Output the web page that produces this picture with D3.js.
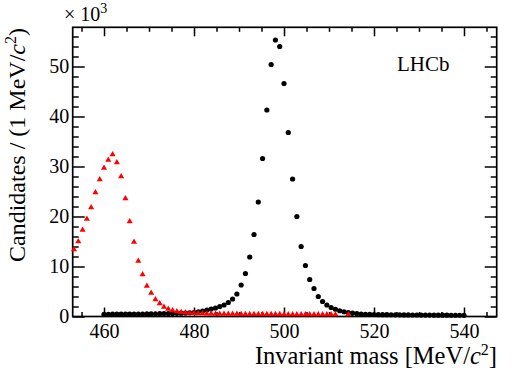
<!DOCTYPE html>
<html>
<head>
<meta charset="utf-8">
<script src="https://cdn.jsdelivr.net/npm/d3@7"></script>
<style>
  html, body { margin: 0; padding: 0; background: #fff; }
  svg { display: block; }
  text { font-family: "Liberation Serif", "Times New Roman", Times, serif; fill: #000; }
</style>
</head>
<body>
<svg id="chart" width="523" height="377"></svg>
<script>
// ---- data (counts in units of 10^3 candidates) ----
const binWidth = 80 / 84;           // spacing of points in MeV/c^2
const blackStart = 460;             // first black point
const redStart = 460 - 7 * binWidth; // first red point

const blackValues = [
  0.45,0.45,0.46,0.46,0.47,0.48,0.48,0.49,0.5,0.5,
  0.52,0.53,0.55,0.56,0.58,0.6,0.62,0.64,0.67,0.7,
  0.75,0.8,0.95,1.1,1.3,1.5,1.7,2.0,2.3,2.8,
  3.5,4.5,6.3,8.6,11.9,16.4,22.9,31.6,41.3,50.4,
  55.3,54.0,46.6,36.8,27.5,20.0,14.0,10.2,7.4,5.6,
  4.0,3.0,2.3,1.8,1.45,1.15,0.95,0.8,0.68,0.58,
  0.5,0.45,0.42,0.4,
  0.38,0.37,0.36,0.35,0.34,0.33,0.32,0.31,0.3,0.3,
  0.29,0.28,0.28,0.27,0.27,0.26,0.26,0.25,0.25,0.25,0.24
];

const redValues = [
  13.4,15.0,17.3,19.5,21.8,24.8,27.4,29.7,31.3,32.4,
  30.8,28.0,23.6,19.0,14.9,11.1,8.4,6.1,4.7,3.4,
  2.6,1.9,1.5,1.2,1.0,0.85,0.75,0.7,0.65,0.6,
  0.58,0.55,
  0.55,0.52,0.52,0.5,0.5,0.48,0.48,0.47,0.46,0.46,
  0.45,0.45,0.44,0.44,0.43,0.43,0.43,0.42,0.42,0.42,
  0.41,0.41,0.41,0.4,0.4,0.4,0.4,0.4,0.4,0.4,
  null,null,0.4
];

const xMajorTicks = [460, 480, 500, 520, 540];
const yMajorTicks = [0, 10, 20, 30, 40, 50];
const xDomain = [453.04, 547.27];
const yDomain = [0, 57.84];

// ---- layout ----
const pLeft = 72.7, pRight = 496.7, pTop = 27.3, pBottom = 316.5;
const serif = '"Liberation Serif", "Times New Roman", Times, serif';
const svg = d3.select("#chart");

const x = d3.scaleLinear().domain(xDomain).range([pLeft, pRight]);
const y = d3.scaleLinear().domain(yDomain).range([pBottom, pTop]);

const blackPts = blackValues.map((v, i) => ({m: blackStart + i * binWidth, v}));
const redPts = redValues.map((v, i) => ({m: redStart + i * binWidth, v})).filter(d => d.v !== null);

const xMinor = d3.range(455, 547, 5).filter(t => !xMajorTicks.includes(t));
const yMinor = d3.range(0, 58, 2).filter(t => !yMajorTicks.includes(t));

const fmt = d3.format("d");

// bottom axis
svg.append("g").attr("transform", `translate(0,${pBottom})`)
  .call(d3.axisBottom(x).tickValues(xMajorTicks).tickSize(-9).tickPadding(7).tickFormat(fmt));
svg.append("g").attr("transform", `translate(0,${pBottom})`)
  .call(d3.axisBottom(x).tickValues(xMinor).tickSize(-4.5).tickFormat(""));
// top axis
svg.append("g").attr("transform", `translate(0,${pTop})`)
  .call(d3.axisTop(x).tickValues(xMajorTicks).tickSize(-9).tickFormat(""));
svg.append("g").attr("transform", `translate(0,${pTop})`)
  .call(d3.axisTop(x).tickValues(xMinor).tickSize(-4.5).tickFormat(""));
// left axis
svg.append("g").attr("transform", `translate(${pLeft},0)`)
  .call(d3.axisLeft(y).tickValues(yMajorTicks).tickSize(-12).tickPadding(3.5).tickFormat(fmt));
svg.append("g").attr("transform", `translate(${pLeft},0)`)
  .call(d3.axisLeft(y).tickValues(yMinor).tickSize(-6).tickFormat(""));
// right axis
svg.append("g").attr("transform", `translate(${pRight},0)`)
  .call(d3.axisRight(y).tickValues(yMajorTicks).tickSize(-12).tickFormat(""));
svg.append("g").attr("transform", `translate(${pRight},0)`)
  .call(d3.axisRight(y).tickValues(yMinor).tickSize(-6).tickFormat(""));

svg.selectAll(".domain").remove();
svg.selectAll("g").attr("font-family", serif);
svg.selectAll(".tick line").attr("stroke", "#000").attr("stroke-width", 1.5);
svg.selectAll(".tick text").attr("font-size", 20).style("font-family", serif);

// frame
svg.append("rect")
  .attr("x", pLeft).attr("y", pTop)
  .attr("width", pRight - pLeft).attr("height", pBottom - pTop)
  .attr("fill", "none").attr("stroke", "#000").attr("stroke-width", 1.7);

// data: black points
svg.append("g").selectAll("circle").data(blackPts).join("circle")
  .attr("cx", d => x(d.m)).attr("cy", d => y(d.v)).attr("r", 2.6).attr("fill", "#000");

// red triangles
const tri = d3.symbol().type(d3.symbolTriangle).size(16);
svg.append("g").selectAll("path").data(redPts).join("path")
  .attr("d", tri)
  .attr("transform", d => `translate(${x(d.m)},${y(d.v)})`)
  .attr("fill", "#ff0000");

// multiplier
const mult = svg.append("text").attr("x", 64).attr("y", 21).attr("font-size", 20).style("font-family", serif);
mult.append("tspan").text("\u00d7 10");
mult.append("tspan").attr("font-size", 14).attr("dy", -8).text("3");

// LHCb label
svg.append("text").attr("x", 397).attr("y", 70.5).attr("font-size", 21).style("font-family", serif).text("LHCb");

// x title
const xt = svg.append("text").attr("x", 497).attr("y", 364).attr("font-size", 24.5)
  .attr("text-anchor", "end").style("font-family", serif);
xt.append("tspan").text("Invariant mass [MeV/");
xt.append("tspan").attr("font-style", "italic").text("c");
xt.append("tspan").attr("font-size", 16).attr("dy", -9).text("2");
xt.append("tspan").attr("dy", 9).text("]");

// y title
const yt = svg.append("text").attr("transform", "translate(25,28) rotate(-90)")
  .attr("font-size", 24).attr("text-anchor", "end").style("font-family", serif);
yt.append("tspan").text("Candidates / (1 MeV/");
yt.append("tspan").attr("font-style", "italic").text("c");
yt.append("tspan").attr("font-size", 16).attr("dy", -9).text("2");
yt.append("tspan").attr("dy", 9).text(")");
</script>
</body>
</html>
